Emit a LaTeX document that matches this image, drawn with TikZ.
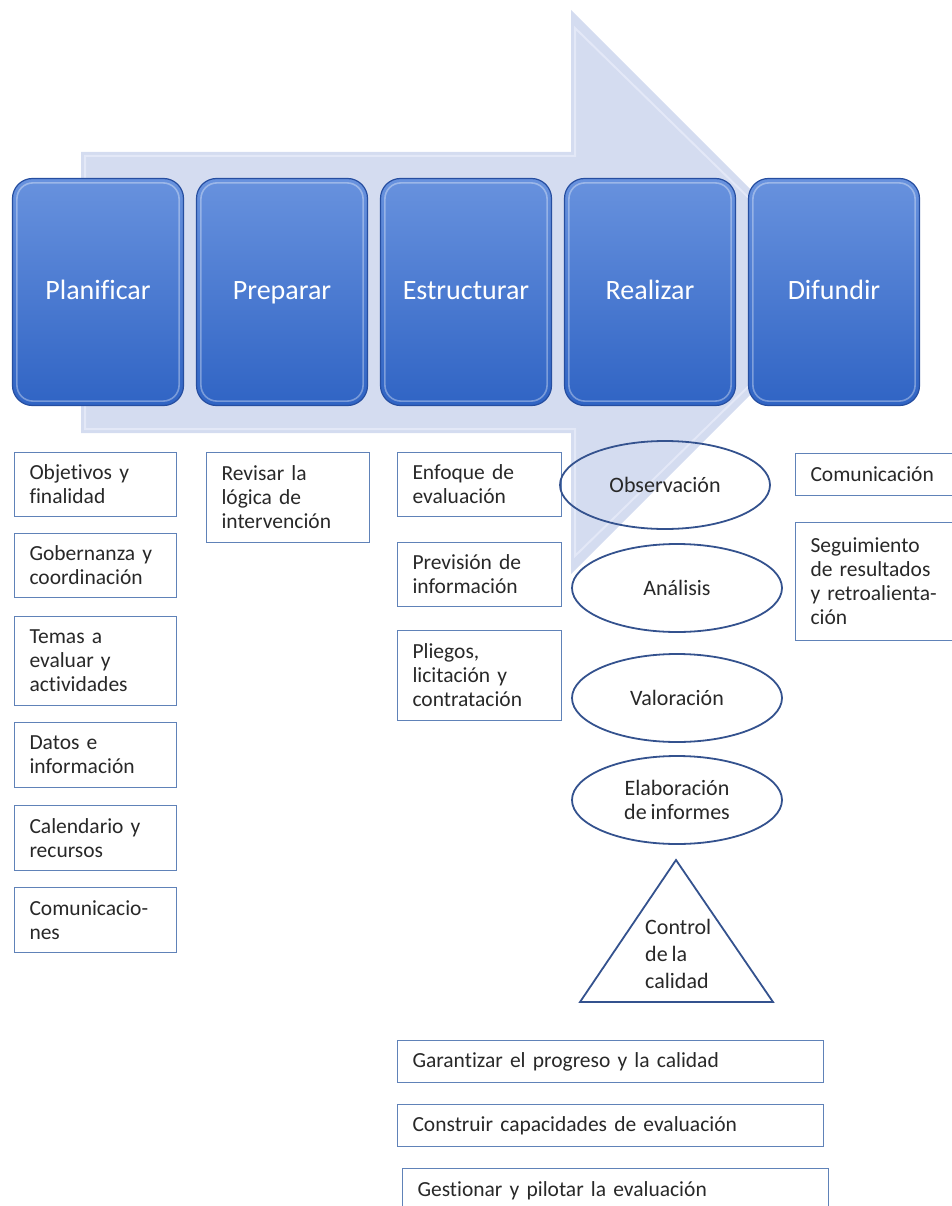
\documentclass[tikz,border=0pt]{standalone}
\usepackage{fontspec}
\setmainfont{Carlito}[RawFeature={-liga}, WordSpace={0.8,0,0}]
\usetikzlibrary{shapes.geometric}
\definecolor{arrowfill}{RGB}{212,220,240}
\definecolor{arrowedge}{RGB}{227,232,247}
\definecolor{stagetop}{RGB}{104,146,222}
\definecolor{stagebot}{RGB}{48,100,196}
\definecolor{stageedge}{RGB}{38,78,160}
\definecolor{boxedge}{RGB}{96,130,184}
\definecolor{ovaledge}{RGB}{52,82,142}
\definecolor{txt}{RGB}{40,40,40}
\tikzset{
  stagebox/.style={rounded corners=20pt, minimum width=171pt, minimum height=227pt,
    top color=stagetop, bottom color=stagebot, draw=stageedge, line width=1.2pt,
    text=white, font=\fontsize{28}{32}\selectfont, inner sep=0pt,
    text height=20pt, text depth=6pt},
  infobox/.style={draw=boxedge, line width=1pt, align=left, anchor=north west,
    inner xsep=15pt, inner ysep=0pt, text=txt, font=\fontsize{21.5}{24}\selectfont},
  ovalbox/.style={ellipse, draw=ovaledge, line width=1.8pt, minimum width=210pt,
    minimum height=88pt, inner sep=0pt, align=center, text=txt,
    font=\fontsize{22}{24.5}\selectfont},
  trilabel/.style={anchor=north west, align=left, inner sep=0pt, text=txt,
    font=\fontsize{22}{27}\selectfont},
  shapeline/.style={draw=ovaledge, line width=1.8pt, line join=miter}
}
\begin{document}
\begin{tikzpicture}[x=1pt,y=-1pt]
\useasboundingbox (0,0) rectangle (951,1206);
% big background arrow
\coordinate (a1) at (81,152);
\coordinate (a2) at (571,152);
\coordinate (a3) at (571,10);
\coordinate (a4) at (853,292);
\coordinate (a5) at (571,574);
\coordinate (a6) at (571,433);
\coordinate (a7) at (81,433);
\fill[arrowfill] (a1) -- (a2) -- (a3) -- (a4) -- (a5) -- (a6) -- (a7) -- cycle;
\draw[arrowedge, line width=2pt] ([shift={(4,4)}]a1) -- ([shift={(4,4)}]a2) -- ([shift={(4,18)}]a3)
  -- ([shift={(-8,0)}]a4) -- ([shift={(4,-18)}]a5) -- ([shift={(4,-4)}]a6) -- ([shift={(4,-4)}]a7) -- cycle;
% stage boxes
\node[stagebox] (plan) at (98,292) {Planificar};
\node[stagebox] (prep) at (282,292) {Preparar};
\node[stagebox] (estr) at (466,292) {Estructurar};
\node[stagebox] (real) at (650,292) {Realizar};
\node[stagebox] (difu) at (834,292) {Difundir};
\foreach \n in {plan,prep,estr,real,difu}{
  \draw[white, opacity=0.35, line width=1.6pt, rounded corners=16pt]
    ([shift={(5,5)}]\n.north west) rectangle ([shift={(-5,-5)}]\n.south east);
}
% Planificar column
\node[infobox, text width=132pt, minimum height=64pt] (obj) at (14,452) {Objetivos y\\finalidad};
\node[infobox, text width=132pt, minimum height=64pt] (gob) at (14,533) {Gobernanza y\\coordinación};
\node[infobox, text width=132pt, minimum height=89pt] (tem) at (14,616) {Temas a\\evaluar y\\actividades};
\node[infobox, text width=132pt, minimum height=65pt] (dat) at (14,722) {Datos e\\información};
\node[infobox, text width=132pt, minimum height=65pt] (cal) at (14,805) {Calendario y\\recursos};
\node[infobox, text width=132pt, minimum height=65pt] (com) at (14,887) {Comunicacio-\\nes};
% Preparar column
\node[infobox, text width=133pt, minimum height=90pt] (rev) at (206,452) {Revisar la\\lógica de\\intervención};
% Estructurar column
\node[infobox, text width=134pt, minimum height=64pt] (enf) at (397,452) {Enfoque de\\evaluación};
\node[infobox, text width=134pt, minimum height=64pt] (pre) at (397,542) {Previsión de\\información};
\node[infobox, text width=134pt, minimum height=90pt] (pli) at (397,630) {Pliegos,\\licitación y\\contratación};
% Realizar column
\node[ovalbox] (obs) at (665,485) {Observación};
\node[ovalbox] (ana) at (677,588) {Análisis};
\node[ovalbox] (val) at (677,698) {Valoración};
\node[ovalbox] (ela) at (677,800) {Elaboración\\de informes};
\coordinate (tA) at (676,860);
\coordinate (tB) at (580,1002);
\coordinate (tC) at (773,1002);
\draw[shapeline] (tA) -- (tB) -- (tC) -- cycle;
\node[trilabel] (ctl) at (645,919) {Control\\de la\\calidad};
% Difundir column
\node[infobox, text width=136pt, minimum height=42pt] (cmn) at (795,453) {Comunicación};
\node[infobox, text width=136pt, minimum height=118pt] (seg) at (795,522) {Seguimiento\\de resultados\\y retroalienta-\\ción};
% bottom boxes
\node[infobox, text width=396pt, minimum height=42pt] (gar) at (397,1040) {Garantizar el progreso y la calidad};
\node[infobox, text width=396pt, minimum height=42pt] (con) at (397,1104) {Construir capacidades de evaluación};
\node[infobox, text width=396pt, minimum height=44pt] (ges) at (402,1168) {Gestionar y pilotar la evaluación};
\end{tikzpicture}
\end{document}
